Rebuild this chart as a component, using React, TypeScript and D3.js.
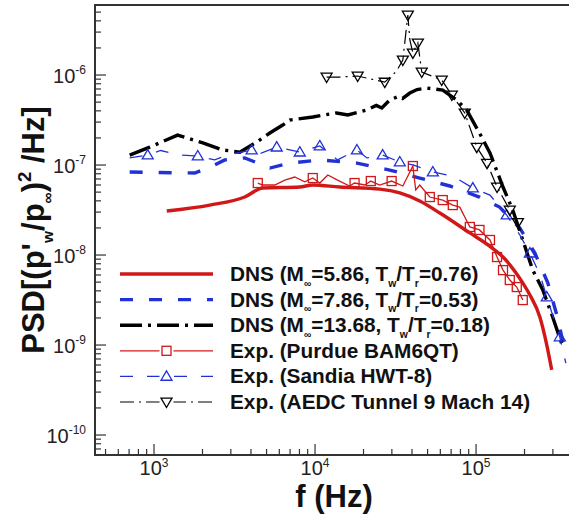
import React from "react";
import * as d3 from "d3";

const W = 569;
const H = 515;

// [frequency Hz, PSD]
const dnsM586: [number, number][] = [
  [1200, 3.08e-8], [2220, 3.59e-8], [3660, 4.41e-8], [4730, 5.55e-8], [8040, 5.7e-8],
  [9680, 6.0e-8], [14200, 5.7e-8], [25200, 5.4e-8], [33600, 4.9e-8], [44700, 3.98e-8],
  [59600, 2.93e-8], [91500, 1.76e-8], [122000, 1.25e-8], [147000, 9.5e-9], [195000, 4.9e-9],
  [216000, 3.6e-9], [249000, 2.05e-9], [275000, 1.0e-9], [295000, 5.3e-10],
];

const dnsM786: [number, number][] = [
  [706, 8.36e-8], [1790, 8.15e-8], [2380, 1.0e-7], [2750, 1.14e-7], [3660, 1.2e-7],
  [5240, 9.26e-8], [6960, 1.05e-7], [10700, 1.14e-7], [18200, 1.05e-7], [29100, 8.8e-8],
  [44700, 7.17e-8], [68700, 5.85e-8], [105000, 4.41e-8], [140000, 3.41e-8], [187000, 2.0e-8],
  [232000, 1.05e-8], [279000, 4.9e-9], [321000, 2.0e-9], [361000, 7.74e-10],
];

const dnsM1368: [number, number][] = [
  [706, 1.29e-7], [940, 1.58e-7], [1400, 2.15e-7], [2010, 1.76e-7], [2670, 1.47e-7],
  [3410, 1.39e-7], [4340, 1.8e-7], [5240, 2.27e-7], [6300, 2.78e-7], [6960, 3.16e-7],
  [9680, 3.42e-7], [13600, 3.79e-7], [16000, 3.6e-7], [20900, 4.08e-7], [24000, 4.6e-7],
  [26000, 4.3e-7], [29100, 5.28e-7], [33000, 5.8e-7], [35000, 5.5e-7], [38800, 6.31e-7],
  [43000, 6.9e-7], [49400, 7.17e-7], [62100, 6.8e-7], [75900, 5.28e-7], [87500, 4.08e-7],
  [105000, 2.27e-7], [122000, 1.36e-7], [147000, 5.7e-8], [169000, 3.16e-8], [195000, 1.47e-8],
  [225000, 6.8e-9], [260000, 4.08e-9], [299000, 2.05e-9], [346000, 9.5e-10],
];

// [frequency Hz, PSD, marker flag]
const expPurdue: [number, number, number][] = [
  [4410, 6.31e-8, 1], [4730, 6.0e-8, 0], [5620, 6.0e-8, 0], [6490, 6.8e-8, 0], [7480, 7.36e-8, 0],
  [8630, 6.5e-8, 0], [9680, 7.17e-8, 1], [10700, 6.31e-8, 0], [12000, 7.74e-8, 0], [13800, 6.8e-8, 0],
  [16400, 5.85e-8, 0], [17600, 6.31e-8, 1], [20400, 6.0e-8, 0], [22200, 6.64e-8, 1], [25200, 6.0e-8, 0],
  [29900, 6.64e-8, 1], [35100, 5.85e-8, 0], [38800, 8.36e-8, 0], [40500, 9.75e-8, 1], [42200, 5.28e-8, 0],
  [44700, 6.0e-8, 0], [51600, 4.41e-8, 1], [62100, 4.08e-8, 1], [71700, 3.59e-8, 1], [79200, 3.41e-8, 0],
  [91500, 2.05e-8, 1], [105000, 1.9e-8, 1], [122000, 1.47e-8, 1], [135000, 9.5e-9, 1], [147000, 6.8e-9, 1],
  [162000, 5.28e-9, 1], [179000, 4.41e-9, 1], [195000, 3.16e-9, 1],
];

const expSandia: [number, number, number][] = [
  [706, 1.2e-7, 0], [914, 1.29e-7, 1], [1100, 1.45e-7, 0], [1400, 1.3e-7, 0], [1870, 1.26e-7, 1],
  [2380, 1.14e-7, 0], [2900, 1.3e-7, 0], [4040, 1.47e-7, 1], [4600, 1.35e-7, 0], [5780, 1.58e-7, 1],
  [8040, 1.39e-7, 1], [10700, 1.63e-7, 1], [13800, 1.14e-7, 0], [18200, 1.47e-7, 1], [21000, 1.2e-7, 0],
  [26300, 1.29e-7, 1], [33600, 1.08e-7, 1], [41000, 1.0e-7, 0], [53900, 8.36e-8, 1], [71700, 7.55e-8, 0],
  [95500, 5.55e-8, 1], [122000, 4.64e-8, 0], [155000, 2.78e-8, 1], [187000, 1.67e-8, 0], [216000, 1.05e-8, 1],
  [250000, 6.0e-9, 0], [275000, 3.41e-9, 1], [331000, 1.23e-9, 1], [361000, 6.3e-10, 0],
];

const expAEDC: [number, number, number][] = [
  [11800, 9.5e-7, 1], [14200, 9.5e-7, 0], [18400, 9.75e-7, 1], [27100, 8.35e-7, 1], [32000, 1.1e-6, 0],
  [35100, 1.47e-6, 1], [37700, 4.64e-6, 1], [38800, 2.45e-6, 0], [40500, 1.76e-6, 1], [43500, 2.27e-6, 1],
  [46000, 1.08e-6, 1], [61200, 8.8e-7, 1], [70700, 6.0e-7, 1], [85100, 3.79e-7, 1], [101000, 1.58e-7, 1],
  [117000, 1.05e-7, 1], [135000, 5.7e-8, 1], [162000, 3.16e-8, 1], [182000, 2.3e-8, 1],
];

type Seg = [string, "" | "sub" | "sup"];
const legendLabels: Seg[][] = [
  [["DNS (M", ""], ["\u221e", "sub"], ["=5.86, T", ""], ["w", "sub"], ["/T", ""], ["r", "sub"], ["=0.76)", ""]],
  [["DNS (M", ""], ["\u221e", "sub"], ["=7.86, T", ""], ["w", "sub"], ["/T", ""], ["r", "sub"], ["=0.53)", ""]],
  [["DNS (M", ""], ["\u221e", "sub"], ["=13.68, T", ""], ["w", "sub"], ["/T", ""], ["r", "sub"], ["=0.18)", ""]],
  [["Exp. (Purdue BAM6QT)", ""]],
  [["Exp. (Sandia HWT-8)", ""]],
  [["Exp. (AEDC Tunnel 9 Mach 14)", ""]],
];

const xTickExps = [3, 4, 5];
const yTickExps = [-6, -7, -8, -9, -10];

const RED = "#d01818";
const BLUE = "#2231d6";
const BLACK = "#000";

const margin = { left: 95, top: 5, right: 573, bottom: 455 };

const x = d3.scaleLog().domain([430, 4e5]).range([margin.left, margin.right]);
const y = d3.scaleLog().domain([6e-11, 6e-6]).range([margin.bottom, margin.top]);

const lineGen = d3
  .line<any>()
  .x((d) => x(d[0]))
  .y((d) => y(d[1]));
const smoothGen = d3
  .line<any>()
  .x((d) => x(d[0]))
  .y((d) => y(d[1]))
  .curve(d3.curveMonotoneX);

type Style = {
  color: string;
  width: number;
  dash?: string;
  marker?: "square" | "tri" | "itri";
  smooth?: boolean;
};

const styles: Style[] = [
  { color: RED, width: 3.4, smooth: true },
  { color: BLUE, width: 3.4, dash: "13,16" },
  { color: BLACK, width: 3.4, dash: "22,6,3,6" },
  { color: RED, width: 1.3, marker: "square" },
  { color: BLUE, width: 1.3, dash: "13,14", marker: "tri" },
  { color: BLACK, width: 1.2, dash: "14,5,2,5", marker: "itri" },
];

function Marker({ kind, cx, cy, color }: { kind: string; cx: number; cy: number; color: string }) {
  if (kind === "square") {
    return <rect x={cx - 4.5} y={cy - 4.5} width={9} height={9} fill="none" stroke={color} strokeWidth={1.3} />;
  }
  if (kind === "tri") {
    const s = 5.5;
    return (
      <path
        d={`M${cx},${cy - s} L${cx + s},${cy + s * 0.7} L${cx - s},${cy + s * 0.7} Z`}
        fill="none"
        stroke={color}
        strokeWidth={1.3}
      />
    );
  }
  const s = 5.5;
  return (
    <path
      d={`M${cx},${cy + s} L${cx + s},${cy - s * 0.7} L${cx - s},${cy - s * 0.7} Z`}
      fill="none"
      stroke={color}
      strokeWidth={1.3}
    />
  );
}

function RichText({ segs, fontSize }: { segs: Seg[]; fontSize: number }) {
  const out: React.ReactNode[] = [];
  let shift = 0;
  segs.forEach((s, i) => {
    let target = 0;
    let fs = fontSize;
    if (s[1] === "sub") {
      target = fontSize * 0.28;
      fs = fontSize * 0.5;
    } else if (s[1] === "sup") {
      target = -fontSize * 0.42;
      fs = fontSize * 0.6;
    }
    const dy = target - shift;
    shift = target;
    out.push(
      <tspan key={i} dy={dy} fontSize={fs}>
        {s[0]}
      </tspan>
    );
  });
  return <>{out}</>;
}

export default function App() {
  const dnsSeries = [dnsM586, dnsM786, dnsM1368];
  const expSeries = [expPurdue, expSandia, expAEDC];

  const xTicks = x.ticks().filter((t) => t >= 430 && t <= 4e5);
  const yTicks = y.ticks().filter((t) => t >= 6e-11 && t <= 6e-6);
  const isMajor = (t: number) => Math.abs(Math.log10(t) - Math.round(Math.log10(t))) < 1e-6;

  const legendY0 = 274;
  const legendStep = 25.6;
  const legX0 = 120;
  const legX1 = 213;
  const legTextX = 230;

  return (
    <svg
      width={W}
      height={H}
      style={{ position: "absolute", left: 0, top: 0, background: "#fff" }}
      fontFamily="'Liberation Sans', Arial, Helvetica, sans-serif"
    >
      <rect x={0} y={0} width={W} height={H} fill="#fff" />
      <defs>
        <clipPath id="plotClip">
          <rect x={margin.left} y={margin.top} width={margin.right - margin.left} height={margin.bottom - margin.top} />
        </clipPath>
      </defs>

      {/* data */}
      <g clipPath="url(#plotClip)">
        {dnsSeries.map((s, i) => (
          <path
            key={"dns" + i}
            d={(styles[i].smooth ? smoothGen : lineGen)(s) || ""}
            fill="none"
            stroke={styles[i].color}
            strokeWidth={styles[i].width}
            strokeDasharray={styles[i].dash}
          />
        ))}
        {expSeries.map((s, i) => {
          const st = styles[i + 3];
          return (
            <g key={"exp" + i}>
              <path
                d={lineGen(s) || ""}
                fill="none"
                stroke={st.color}
                strokeWidth={st.width}
                strokeDasharray={st.dash}
              />
              {s
                .filter((d) => d[2] === 1)
                .map((d, j) => (
                  <Marker key={j} kind={st.marker!} cx={x(d[0])} cy={y(d[1])} color={st.color} />
                ))}
            </g>
          );
        })}
      </g>

      {/* frame */}
      <path
        d={`M${margin.right},${margin.top} L${margin.left},${margin.top} L${margin.left},${margin.bottom} L${margin.right},${margin.bottom}`}
        fill="none"
        stroke="#333"
        strokeWidth={2}
      />

      {/* x ticks */}
      {xTicks.map((t, i) => (
        <line
          key={"xt" + i}
          x1={x(t)}
          x2={x(t)}
          y1={margin.bottom}
          y2={margin.bottom - (isMajor(t) ? 11 : 6)}
          stroke="#333"
          strokeWidth={1.2}
        />
      ))}
      {yTicks.map((t, i) => (
        <line
          key={"yt" + i}
          x1={margin.left}
          x2={margin.left + (isMajor(t) ? 11 : 6)}
          y1={y(t)}
          y2={y(t)}
          stroke="#333"
          strokeWidth={1.2}
        />
      ))}

      {/* tick labels */}
      {xTickExps.map((e) => (
        <text key={"xl" + e} x={x(Math.pow(10, e))} y={475} textAnchor="middle" fontSize={20} fill="#222">
          <RichText segs={[["10", ""], [String(e), "sup"]]} fontSize={20} />
        </text>
      ))}
      {yTickExps.map((e) => (
        <text key={"yl" + e} x={86} y={y(Math.pow(10, e)) + 7.5} textAnchor="end" fontSize={20} fill="#222">
          <RichText segs={[["10", ""], [String(e), "sup"]]} fontSize={20} />
        </text>
      ))}

      {/* axis titles */}
      <text x={(margin.left + margin.right) / 2} y={507} textAnchor="middle" fontSize={31} fontWeight="bold" fill="#111">
        f (Hz)
      </text>
      <text
        transform={`translate(44, 230) rotate(-90)`}
        textAnchor="middle"
        fontSize={31}
        fontWeight="bold"
        fill="#111"
      >
        <RichText
          segs={[
            ["PSD[(p'", ""],
            ["w", "sub"],
            ["/p", ""],
            ["\u221e", "sub"],
            [")", ""],
            ["2", "sup"],
            [" /Hz]", ""],
          ]}
          fontSize={31}
        />
      </text>

      {/* legend */}
      {legendLabels.map((lab, i) => {
        const st = styles[i];
        const cy = legendY0 + i * legendStep;
        const mx = (legX0 + legX1) / 2;
        return (
          <g key={"lg" + i}>
            <line x1={legX0} x2={legX1} y1={cy} y2={cy} stroke={st.color} strokeWidth={st.width} strokeDasharray={st.dash} />
            {st.marker && (
              <>
                <rect x={mx - 7} y={cy - 7} width={14} height={14} fill="#fff" />
                <Marker kind={st.marker} cx={mx} cy={cy} color={st.color} />
              </>
            )}
            <text x={legTextX} y={cy + 7} fontSize={20.8} fontWeight="bold" fill="#111">
              <RichText segs={lab} fontSize={20.8} />
            </text>
          </g>
        );
      })}
    </svg>
  );
}
